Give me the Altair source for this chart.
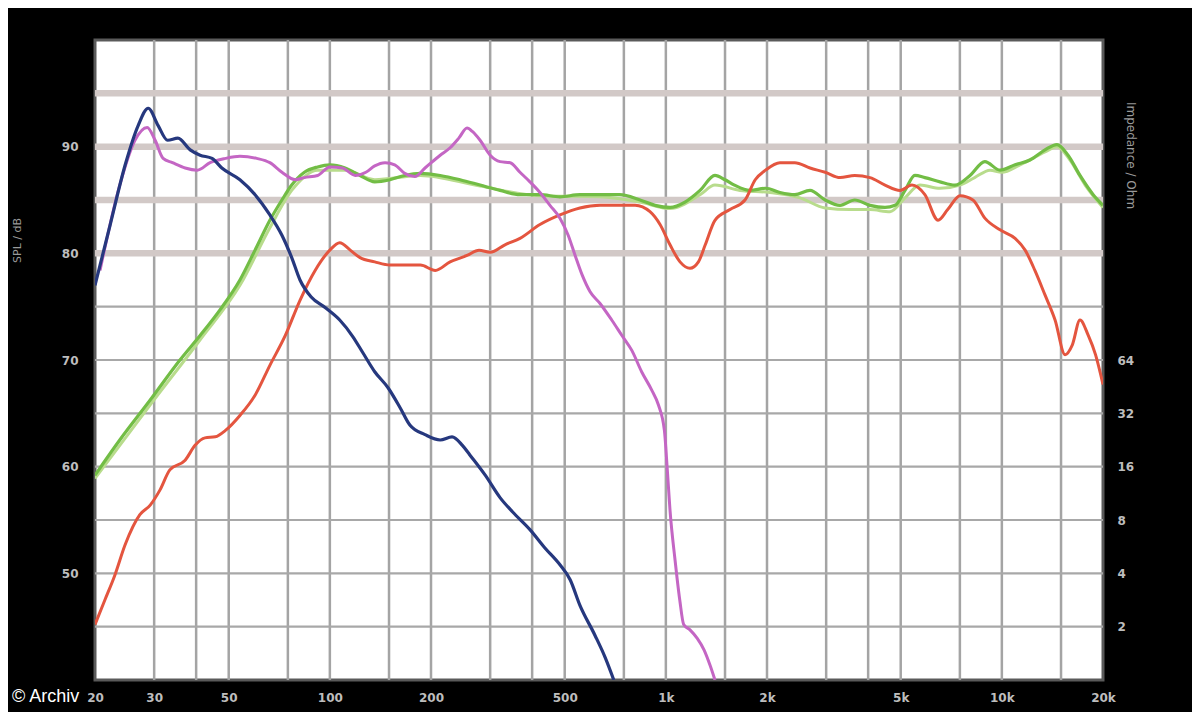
import altair as alt
import pandas as pd

# ---------------- data ----------------
blue_f = [20, 22.2, 24.6, 26.9, 28.8, 30.8, 32.9, 35.3, 38.4, 41.1, 44.6, 47.7, 54.0, 59.9, 66.3, 72, 77,
          81.5, 88, 97, 107, 117, 125, 136, 149, 162, 173, 192, 213, 231, 248, 261, 290, 321, 350, 394,
          436, 484, 519, 555, 615, 660, 700]
blue_db = [77.0, 82.7, 88.3, 92.0, 93.6, 92.0, 90.6, 90.8, 89.7, 89.2, 88.9, 88.0, 86.9, 85.5, 83.6, 81.7, 79.6,
           77.5, 75.9, 74.9, 73.75, 72.2, 70.75, 68.9, 67.4, 65.5, 63.9, 63.0, 62.5, 62.8, 62.0, 61.1, 59.2, 57.1,
           55.75, 54.1, 52.4, 50.8, 49.4, 47.0, 44.2, 42.1, 40.0]

pink_f = [20.7, 23.7, 26.3, 28.6, 30.2, 31.9, 34.0, 37.1, 40.3, 44.0, 48.9, 54.0, 60.6, 66.3, 72, 79, 84, 92,
          100, 109, 119, 128, 136, 146, 156, 167, 179, 192, 213, 228, 242, 256, 266, 280, 300, 321, 344, 368,
          394, 422, 452, 484, 512, 537, 563, 595, 637, 690, 740, 792, 847, 907, 950, 990, 1010, 1029, 1065,
          1100, 1130, 1180, 1240, 1300, 1353, 1400]
pink_db = [78.4, 86.4, 90.6, 91.8, 90.6, 88.9, 88.5, 88.0, 87.8, 88.5, 88.9, 89.1, 88.9, 88.5, 87.6, 86.9, 87.1,
           87.3, 88.1, 88.0, 87.3, 87.6, 88.2, 88.5, 88.3, 87.5, 87.2, 88.0, 89.2, 89.9, 90.8, 91.75, 91.4, 90.6,
           89.2, 88.6, 88.5, 87.6, 86.7, 85.7, 84.5, 83.3, 81.7, 79.8, 78.0, 76.4, 75.3, 73.75, 72.3, 70.9,
           68.9, 67.2, 65.8, 63.4, 59.7, 55.9, 51.25, 47.5, 45.2, 44.7, 43.9, 42.8, 41.4, 40.0]

green_f = [20, 23.7, 29.2, 35.8, 41.1, 47.1, 54.0, 59.9, 66.3, 72, 77, 84, 92, 100, 111, 123, 136, 151, 167,
           186, 213, 244, 280, 321, 368, 422, 484, 555, 637, 730, 838, 929, 1029, 1140, 1264, 1400, 1500,
           1600, 1780, 1980, 2186, 2420, 2686, 2980, 3299, 3650, 4051, 4490, 4810, 5150, 5510, 5900, 6546,
           7250, 8041, 8900, 9876, 10950, 12127, 13440, 14590, 15740, 17082, 18700, 20000]
green_db = [59.2, 62.5, 66.25, 70.0, 72.3, 74.7, 77.5, 80.3, 83.1, 85.0, 86.4, 87.6, 88.1, 88.3, 88.0, 87.3,
            86.7, 86.9, 87.3, 87.5, 87.3, 86.9, 86.4, 85.9, 85.5, 85.5, 85.3, 85.5, 85.5, 85.5, 85.0, 84.5,
            84.3, 84.8, 85.9, 87.3, 86.9, 86.4, 85.9, 86.1, 85.7, 85.5, 85.9, 85.0, 84.5, 85.0, 84.5, 84.3,
            84.5, 85.9, 87.3, 87.1, 86.7, 86.4, 87.3, 88.6, 87.8, 88.3, 88.75, 89.7, 90.2, 89.2, 87.3, 85.5,
            84.5]

green2_f = [20, 29.2, 41.1, 54, 66.3, 77, 92, 111, 136, 186, 280, 422, 637, 838, 1029, 1264, 1400, 1662,
            2041, 2508, 2980, 3532, 4051, 4647, 5150, 5708, 6546, 7508, 8300, 9221, 10000, 11325, 13440,
            14590, 15952, 17700, 20000]
green2_db = [58.9, 65.8, 71.9, 77.0, 82.4, 85.9, 87.8, 87.8, 86.9, 87.3, 86.3, 85.4, 85.3, 84.8, 84.2, 85.5,
             86.4, 85.9, 85.7, 85.2, 84.25, 84.1, 84.1, 83.9, 85.2, 86.4, 86.1, 86.4, 87.1, 87.8, 87.6, 88.3,
             89.5, 90.0, 88.75, 86.4, 84.3]

red_f = [20, 21.4, 22.9, 24.6, 27.2, 29.2, 31.2, 33.4, 37.1, 39.7, 42.5, 45.6, 48.9, 54.0, 59.9, 66.3, 73.7,
         81.5, 90.4, 100, 107, 115, 123, 136, 151, 167, 186, 206, 228, 256, 278, 300, 332, 368, 422, 484,
         555, 637, 730, 810, 897, 961, 1029, 1102, 1180, 1250, 1310, 1400, 1552, 1720, 1845, 1980, 2186,
         2420, 2686, 2980, 3299, 3650, 4051, 4490, 4976, 5400, 5900, 6460, 6900, 7508, 8200, 8900, 9876,
         10950, 11730, 12540, 13440, 14400, 15420, 16200, 17082, 18080, 19000, 20000]
red_db = [45.2, 47.5, 49.8, 52.7, 55.5, 56.4, 57.8, 59.7, 60.6, 62.0, 62.7, 62.8, 63.4, 64.8, 66.7, 69.5, 72.3,
          75.6, 78.4, 80.3, 81.0, 80.3, 79.6, 79.2, 78.9, 78.9, 78.9, 78.4, 79.2, 79.8, 80.3, 80.1, 80.8, 81.4,
          82.7, 83.6, 84.25, 84.5, 84.5, 84.5, 83.9, 82.7, 80.8, 79.2, 78.6, 79.2, 80.8, 83.1, 84.1, 85.0, 86.9,
          87.8, 88.5, 88.5, 88.0, 87.6, 87.1, 87.3, 87.1, 86.4, 85.9, 86.4, 85.5, 83.1, 84.1, 85.4, 85.0, 83.3,
          82.2, 81.4, 80.3, 78.4, 76.1, 73.75, 70.5, 71.4, 73.75, 72.3, 70.5, 67.7]

# grid / axis values
vgrid_f = [30, 40, 50, 75, 100, 150, 200, 300, 400, 500, 750, 1000, 1500, 2000, 3000, 4000, 5000, 7500,
           10000, 15000]
hgrid_thin = [45, 50, 55, 60, 65, 70, 75]
hgrid_thick = [80, 85, 90, 95]
x_ticks = [20, 30, 50, 100, 200, 500, 1000, 2000, 5000, 10000, 20000]
y_ticks = [50, 60, 70, 80, 90]
imp_ticks = [2, 4, 8, 16, 32, 64]

W, H = 1008, 640
LABEL = "#bdbdbd"

xscale = alt.Scale(type="log", domain=[20, 20000], nice=False)
yscale = alt.Scale(domain=[40, 100], nice=False, zero=False)

xaxis = alt.Axis(values=x_ticks, grid=False, domain=False, ticks=False, labelColor=LABEL,
                 labelFontSize=12, labelFontWeight="bold", labelFont="DejaVu Sans", labelPadding=12,
                 labelFlush=False, title=None,
                 labelExpr="datum.value >= 1000 ? format(datum.value/1000, 'd') + 'k' : format(datum.value, 'd')")
yaxis = alt.Axis(values=y_ticks, grid=False, domain=False, ticks=False, labelColor=LABEL,
                 labelFontSize=12, labelFontWeight="bold", labelFont="DejaVu Sans", labelPadding=17,
                 title="SPL / dB", titleColor="#9a9a9a", titleFontSize=11, titleFontWeight="normal",
                 titleFont="DejaVu Sans", titleX=-78, titleY=200, titleAngle=270, titleAlign="center",
                 titleBaseline="middle")


def line_df(f, db):
    return pd.DataFrame({"f": f, "db": db, "i": list(range(len(f)))})


base_x = alt.X("f:Q", scale=xscale, axis=xaxis)
base_y = alt.Y("db:Q", scale=yscale, axis=yaxis)

vgrid = alt.Chart(pd.DataFrame({"f": vgrid_f})).mark_rule(color="#a4a4a4", strokeWidth=2.5).encode(
    x=base_x)
hthin = alt.Chart(pd.DataFrame({"db": hgrid_thin})).mark_rule(color="#a8a8a8", strokeWidth=2.2).encode(
    y=base_y)
hthick = alt.Chart(pd.DataFrame({"db": hgrid_thick})).mark_rule(color="#d2c9c7", strokeWidth=6.5).encode(
    y=base_y)


def curve(f, db, color, width=3.0):
    return alt.Chart(line_df(f, db)).mark_line(color=color, strokeWidth=width, clip=True,
                                               interpolate="monotone").encode(
        x=base_x, y=base_y, order="i:Q")


green2 = curve(green2_f, green2_db, "#b8dc8c", 3.0)
green = curve(green_f, green_db, "#72bd45", 3.2)
red = curve(red_f, red_db, "#e4553f", 3.0)
pink = curve(pink_f, pink_db, "#c466c4", 3.0)
blue = curve(blue_f, blue_db, "#26387e", 3.2)

credit = alt.Chart(pd.DataFrame({"t": ["© Archiv"]})).mark_text(
    color="white", fontSize=18, font="Liberation Sans", align="left", baseline="middle").encode(
    x=alt.value(-83), y=alt.value(657), text="t:N")

spl_layers = alt.layer(vgrid, hthin, hthick, green2, green, red, pink, blue, credit)

imp = alt.Chart(pd.DataFrame({"f": [1000], "z": [8]})).mark_point(opacity=0).encode(
    x=base_x,
    y=alt.Y("z:Q", scale=alt.Scale(type="log", base=2, domain=[1, 4096], nice=False),
            axis=alt.Axis(orient="right", values=imp_ticks, grid=False, domain=False, ticks=False,
                          labelColor=LABEL, labelFontSize=12, labelFontWeight="bold",
                          labelFont="DejaVu Sans", labelPadding=14, format="d",
                          title="Impedance / Ohm", titleColor="#9a9a9a", titleFontSize=12,
                          titleFontWeight="normal", titleFont="DejaVu Sans", titleX=27, titleY=115,
                          titleAngle=90, titleAlign="center", titleBaseline="middle")))

chart = alt.layer(spl_layers, imp).resolve_scale(y="independent").properties(
    width=W, height=H,
    autosize=alt.AutoSizeParams(type="none"),
    padding={"left": 87, "top": 32, "right": 89, "bottom": 32},
    usermeta={"embedOptions": {"defaultStyle": "body{background:#000;}"}},
).configure(background="black").configure_view(fill="white", stroke="#5a5a5a", strokeWidth=3)

chart.save("out.html", embed_options={"renderer": "svg", "actions": False})
